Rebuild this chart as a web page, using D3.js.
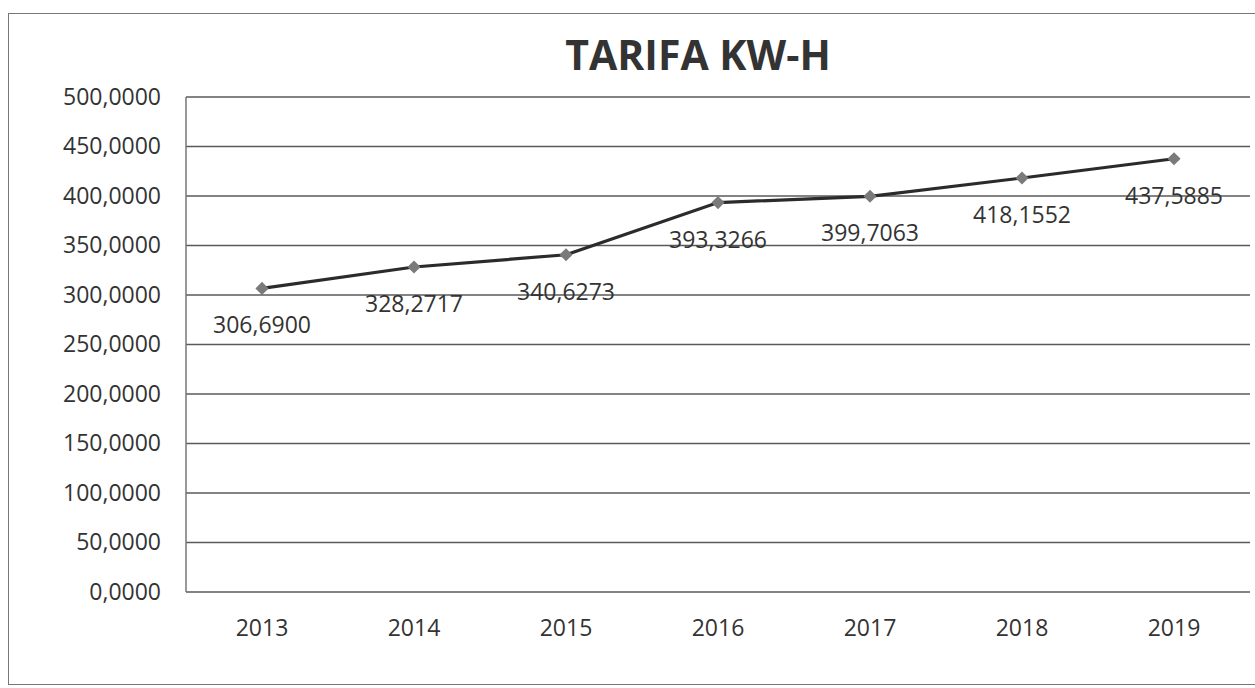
<!DOCTYPE html>
<html lang="es">
<head>
<meta charset="UTF-8">
<title>TARIFA KW-H</title>
<script src="https://cdn.jsdelivr.net/npm/d3@7"></script>
<style>
  body { margin: 0; background: #fff; }
  svg { display: block; font-family: "Open Sans", "Noto Sans", sans-serif; }
</style>
</head>
<body>
<div id="chart"></div>
<script>
const years = ["2013", "2014", "2015", "2016", "2017", "2018", "2019"];
const tarifa = [306.6900, 328.2717, 340.6273, 393.3266, 399.7063, 418.1552, 437.5885];
const yTicks = [0, 50, 100, 150, 200, 250, 300, 350, 400, 450, 500];

const w = 1255, h = 688;
const m = {left: 186, right: 5, top: 97, bottom: 96};

const svg = d3.select("#chart").append("svg")
    .attr("width", w)
    .attr("height", h);

// chart frame
svg.append("rect")
    .attr("x", 8.5).attr("y", 13.5)
    .attr("width", w + 10).attr("height", h - 17)
    .attr("fill", "#fff")
    .attr("stroke", "#777")
    .attr("stroke-width", 1);

const x = d3.scaleBand()
    .domain(years)
    .range([m.left, w - m.right]);
const y = d3.scaleLinear()
    .domain([0, 500])
    .range([h - m.bottom, m.top]);

const fmt = v => d3.format(".4f")(v).replace(".", ",");

// gridlines
svg.append("g")
    .selectAll("line")
    .data(yTicks)
    .join("line")
    .attr("x1", m.left).attr("x2", w - m.right)
    .attr("y1", d => y(d)).attr("y2", d => y(d))
    .attr("stroke", "#5a5a5a")
    .attr("stroke-width", 1.5);

// left edge of plot area
svg.append("line")
    .attr("x1", m.left).attr("x2", m.left)
    .attr("y1", y(500)).attr("y2", y(0))
    .attr("stroke", "#777").attr("stroke-width", 1.5);

const yAxis = svg.append("g")
    .attr("transform", "translate(" + (m.left - 25) + ",0)")
    .call(d3.axisLeft(y).tickValues(yTicks).tickFormat(fmt).tickSize(0).tickPadding(0));
yAxis.select(".domain").remove();
yAxis.selectAll("text").attr("font-size", 23).attr("fill", "#333").attr("font-family", "Open Sans");

const xAxis = svg.append("g")
    .attr("transform", "translate(0," + (h - m.bottom) + ")")
    .call(d3.axisBottom(x).tickSize(0).tickPadding(28));
xAxis.select(".domain").remove();
xAxis.selectAll("text").attr("font-size", 23).attr("fill", "#333").attr("font-family", "Open Sans");

// title
svg.append("text")
    .attr("x", 698).attr("y", 70)
    .attr("text-anchor", "middle")
    .attr("font-size", 41)
    .attr("font-weight", "bold")
    .attr("fill", "#333")
    .text("TARIFA KW-H");

const cx = d => x(d) + x.bandwidth() / 2;

const line = d3.line()
    .x((d, i) => cx(years[i]))
    .y(d => y(d));

svg.append("path")
    .datum(tarifa)
    .attr("d", line)
    .attr("fill", "none")
    .attr("stroke", "#2b2b2b")
    .attr("stroke-width", 3.2);

svg.append("g")
    .selectAll("path")
    .data(tarifa)
    .join("path")
    .attr("d", d3.symbol(d3.symbolDiamond2, 110))
    .attr("transform", (d, i) => "translate(" + cx(years[i]) + "," + y(d) + ")")
    .attr("fill", "#7a7a7a");

// data labels
svg.append("g")
    .selectAll("text")
    .data(tarifa)
    .join("text")
    .attr("x", (d, i) => cx(years[i]))
    .attr("y", d => y(d) + 45)
    .attr("text-anchor", "middle")
    .attr("font-size", 23)
    .attr("fill", "#333")
    .text(fmt);
</script>
</body>
</html>
